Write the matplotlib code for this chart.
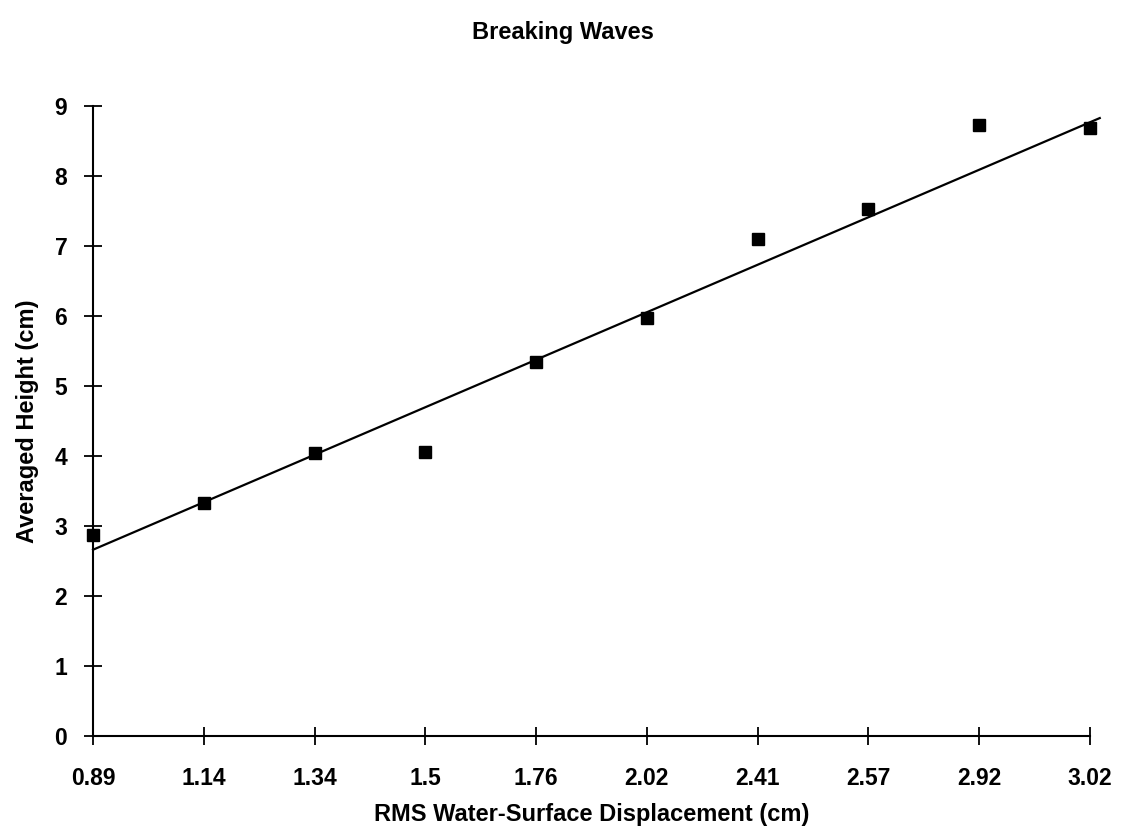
import numpy as np
import matplotlib
matplotlib.use("Agg")
import matplotlib.pyplot as plt

plt.rcParams['font.family'] = ['Liberation Sans', 'DejaVu Sans']
plt.rcParams['font.weight'] = 'bold'

# Data (categorical x axis)
rms_labels = ['0.89', '1.14', '1.34', '1.5', '1.76', '2.02', '2.41', '2.57', '2.92', '3.02']
avg_height = [2.87, 3.33, 4.04, 4.06, 5.34, 5.97, 7.09, 7.53, 8.73, 8.68]

# Linear trend line as drawn in the picture
trend_intercept = 2.66
trend_slope = 0.678

fig = plt.figure(figsize=(11.25, 8.36), dpi=100)
ax = fig.add_axes([0.0827, 0.1196, 0.886, 0.754])

x = np.arange(len(rms_labels))
ax.plot(x, avg_height, linestyle='none', marker='s', markersize=8,
        color='black', clip_on=False, zorder=3)

# trend line runs a little past the last category, like the original
xt = np.array([0, len(rms_labels) - 1 + 0.09])
ax.plot(xt, trend_intercept + trend_slope * xt, color='black', linewidth=1.6,
        clip_on=False, zorder=2)

ax.set_xlim(0, len(rms_labels) - 1)
ax.set_ylim(0, 9)
ax.set_xticks(x)
ax.set_xticklabels(rms_labels)
ax.set_yticks(range(0, 10))

for s in ['top', 'right']:
    ax.spines[s].set_visible(False)
for s in ['left', 'bottom']:
    ax.spines[s].set_linewidth(1.5)

ax.tick_params(axis='both', direction='inout', length=13, width=1.3,
               labelsize=16.5)
ax.tick_params(axis='x', pad=15.5)
ax.tick_params(axis='y', pad=12)

ax.set_xlabel('RMS Water-Surface Displacement (cm)', fontsize=17, fontweight='bold', labelpad=10)
ax.set_ylabel('Averaged Height (cm)', fontsize=17, fontweight='bold', labelpad=11)
fig.suptitle('Breaking Waves', fontsize=17, fontweight='bold', y=0.975)

fig.savefig('out.png', dpi=100)
